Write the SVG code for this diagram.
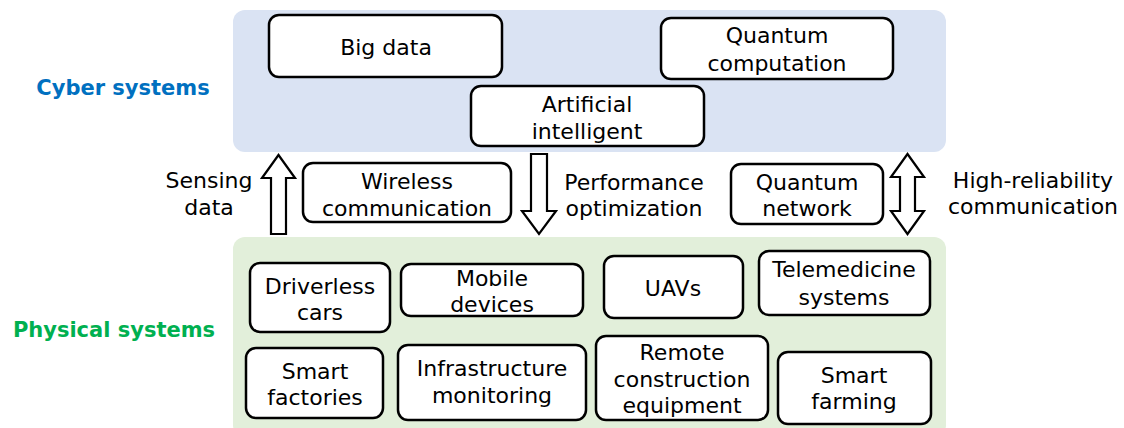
<svg xmlns="http://www.w3.org/2000/svg" width="1124" height="428" viewBox="0 0 1124 428">
<style>
.t{font-family:"DejaVu Sans",Verdana,sans-serif;font-size:22px;fill:#000;text-anchor:middle}
.h{font-family:"DejaVu Sans",Verdana,sans-serif;font-size:21px;font-weight:bold;text-anchor:middle}
.box{fill:#fff;stroke:#000;stroke-width:2.5}
.arr{fill:#fff;stroke:#000;stroke-width:2.2;stroke-linejoin:miter}
</style>
<rect x="0" y="0" width="1124" height="428" fill="#fff"/>
<rect id="cyber-panel" x="233" y="10" width="713" height="142" rx="12" fill="#dae3f3"/>
<rect id="physical-panel" x="233" y="237" width="713" height="200" rx="12" fill="#e2efda"/>
<text class="h" x="123" y="95" fill="#0070c0">Cyber systems</text>
<text class="h" x="114" y="337" fill="#00b050">Physical systems</text>

<g id="big-data"><rect class="box" x="269" y="15" width="233" height="62" rx="10"/><text class="t" x="386" y="55">Big data</text></g>
<g id="quantum-computation"><rect class="box" x="661" y="18" width="232" height="61" rx="10"/><text class="t" x="777" y="43">Quantum</text><text class="t" x="777" y="71">computation</text></g>
<g id="ai"><rect class="box" x="471" y="86" width="233" height="60" rx="10"/><text class="t" x="587" y="112">Artificial</text><text class="t" x="587" y="139">intelligent</text></g>

<g id="wireless"><rect class="box" x="303" y="163" width="208" height="59" rx="10"/><text class="t" x="407" y="189">Wireless</text><text class="t" x="407" y="216">communication</text></g>
<g id="quantum-network"><rect class="box" x="731" y="164" width="152" height="60" rx="10"/><text class="t" x="807" y="190">Quantum</text><text class="t" x="807" y="216">network</text></g>

<g id="connectors">
<path class="arr" d="M271,234 V178 H262 L278.5,155 L295,178 H286 V234 Z"/>
<path class="arr" d="M531,154 V211 H522 L539,234 L556,211 H547 V154 Z"/>
<path class="arr" d="M900,177 H891 L907.5,154 L924,177 H915 V211 H924 L907.5,234 L891,211 H900 Z"/>
</g>
<text class="t" x="209" y="188">Sensing</text><text class="t" x="209" y="215">data</text>
<text class="t" x="634" y="190">Performance</text><text class="t" x="634" y="216">optimization</text>
<text class="t" x="1033" y="188">High-reliability</text><text class="t" x="1033" y="214">communication</text>

<g id="driverless"><rect class="box" x="250" y="263" width="140" height="69" rx="10"/><text class="t" x="320" y="294">Driverless</text><text class="t" x="320" y="320">cars</text></g>
<g id="mobile"><rect class="box" x="401" y="264" width="182" height="52" rx="10"/><text class="t" x="492" y="286">Mobile</text><text class="t" x="492" y="312">devices</text></g>
<g id="uavs"><rect class="box" x="604" y="256" width="139" height="62" rx="10"/><text class="t" x="673" y="296">UAVs</text></g>
<g id="telemedicine"><rect class="box" x="759" y="251" width="171" height="64" rx="10"/><text class="t" x="844" y="277">Telemedicine</text><text class="t" x="844" y="305">systems</text></g>
<g id="smart-factories"><rect class="box" x="246" y="348" width="137" height="70" rx="10"/><text class="t" x="315" y="379">Smart</text><text class="t" x="315" y="405">factories</text></g>
<g id="infrastructure"><rect class="box" x="398" y="345" width="188" height="75" rx="10"/><text class="t" x="492" y="376">Infrastructure</text><text class="t" x="492" y="403">monitoring</text></g>
<g id="remote"><rect class="box" x="596" y="336" width="172" height="84" rx="10"/><text class="t" x="682" y="360">Remote</text><text class="t" x="682" y="387">construction</text><text class="t" x="682" y="413">equipment</text></g>
<g id="smart-farming"><rect class="box" x="778" y="352" width="153" height="72" rx="10"/><text class="t" x="854" y="383">Smart</text><text class="t" x="854" y="409">farming</text></g>
</svg>
